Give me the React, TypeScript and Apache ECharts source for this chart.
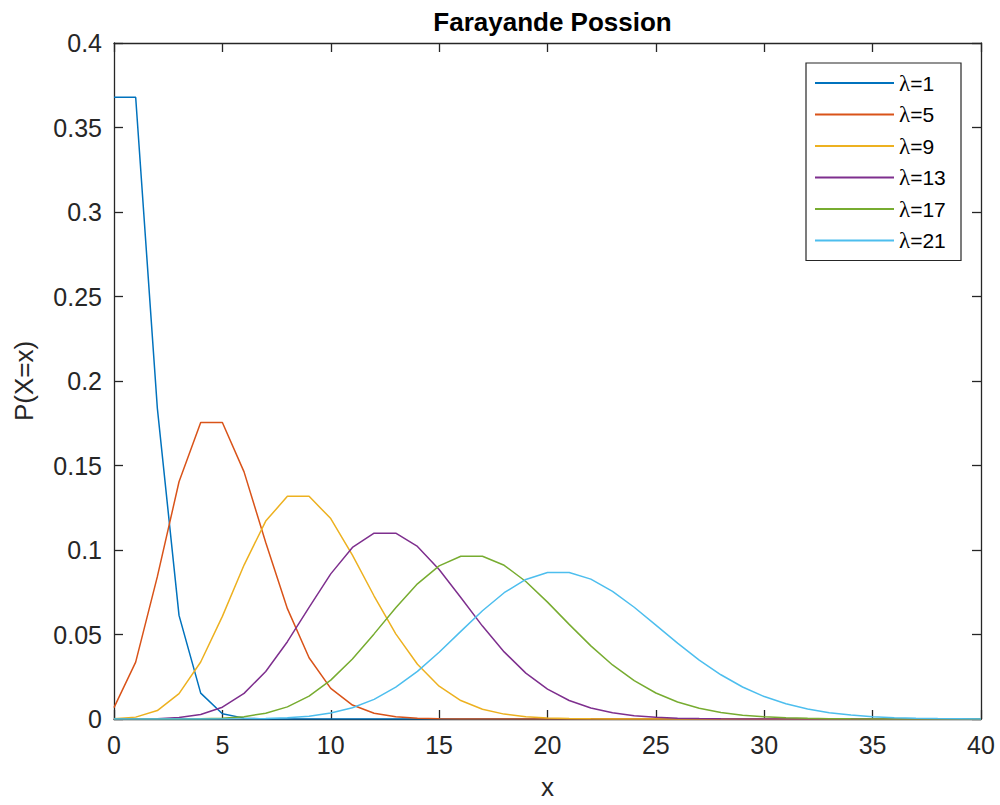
import React, { useEffect, useRef } from "react";
import * as echarts from "echarts";

const xValues = [
  0, 1, 2, 3, 4, 5, 6, 7, 8, 9, 10, 11, 12, 13, 14, 15, 16, 17, 18, 19, 20,
  21, 22, 23, 24, 25, 26, 27, 28, 29, 30, 31, 32, 33, 34, 35, 36, 37, 38, 39, 40,
];

const seriesNames = ["λ=1", "λ=5", "λ=9", "λ=13", "λ=17", "λ=21"];
const seriesColors = ["#0072BD", "#D95319", "#EDB120", "#7E2F8E", "#77AC30", "#4DBEEE"];

const lambda1 = [
  0.3679, 0.3679, 0.1839, 0.0613, 0.0153, 0.00307, 0.00051, 0.000073, 0.0000091, 0.000001,
  0, 0, 0, 0, 0, 0, 0, 0, 0, 0, 0, 0, 0, 0, 0, 0, 0, 0, 0, 0, 0, 0, 0, 0, 0, 0, 0, 0, 0, 0, 0,
];
const lambda5 = [
  0.00674, 0.03369, 0.08422, 0.14037, 0.17547, 0.17547, 0.14622, 0.10444, 0.06528, 0.03627,
  0.01813, 0.00824, 0.00343, 0.00132, 0.00047, 0.000157, 0.000049, 0.0000145, 0.000004, 0.000001,
  0, 0, 0, 0, 0, 0, 0, 0, 0, 0, 0, 0, 0, 0, 0, 0, 0, 0, 0, 0, 0,
];
const lambda9 = [
  0.000123, 0.00111, 0.005, 0.01499, 0.03374, 0.06073, 0.09109, 0.11712, 0.13176, 0.13176,
  0.11858, 0.09702, 0.07277, 0.05038, 0.03238, 0.01943, 0.01093, 0.00579, 0.00289, 0.00137,
  0.000617, 0.000264, 0.000108, 0.0000423, 0.0000159, 0.0000057, 0.000002, 0.0000007,
  0, 0, 0, 0, 0, 0, 0, 0, 0, 0, 0, 0, 0,
];
const lambda13 = [
  0.0000023, 0.0000294, 0.000191, 0.000828, 0.00269, 0.00699, 0.01515, 0.02814, 0.04573, 0.06605,
  0.08587, 0.10148, 0.10994, 0.10994, 0.10209, 0.08848, 0.07189, 0.05497, 0.0397, 0.02716,
  0.01766, 0.01093, 0.00646, 0.00365, 0.00198, 0.00103, 0.000514, 0.000247, 0.000115, 0.0000515,
  0.0000223, 0.0000094, 0.0000038, 0.0000015, 0.0000006, 0, 0, 0, 0, 0, 0,
];
const lambda17 = [
  0, 0.0000007, 0.000006, 0.0000339, 0.000144, 0.00049, 0.00139, 0.00337, 0.00716, 0.01353,
  0.023, 0.03555, 0.05036, 0.06585, 0.07996, 0.09062, 0.09629, 0.09629, 0.09094, 0.08136,
  0.06916, 0.05599, 0.04326, 0.03198, 0.02265, 0.0154, 0.01007, 0.00634, 0.00385, 0.00226,
  0.00128, 0.0007, 0.000373, 0.000192, 0.0000959, 0.0000466, 0.000022, 0.0000101, 0.0000045,
  0.000002, 0.0000008,
];
const lambda21 = [
  0, 0, 0, 0.0000013, 0.0000061, 0.0000258, 0.0000903, 0.000271, 0.000711, 0.00166,
  0.00349, 0.00665, 0.01164, 0.01881, 0.02821, 0.0395, 0.05184, 0.06404, 0.07472, 0.08258,
  0.08671, 0.08671, 0.08277, 0.07557, 0.06612, 0.05554, 0.04486, 0.03489, 0.02617, 0.01895,
  0.01327, 0.00899, 0.0059, 0.00375, 0.00232, 0.00139, 0.000811, 0.00046, 0.000254, 0.000137,
  0.0000719,
];

const allSeries = [lambda1, lambda5, lambda9, lambda13, lambda17, lambda21];

const titleText = "Farayande Possion";
const xName = "x";
const yName = "P(X=x)";

const FONT = "'Liberation Sans', Arial, Helvetica, sans-serif";
const SERIF = "'Liberation Serif', 'DejaVu Serif', serif";
const AXIS_COLOR = "#262626";

export default function App() {
  const ref = useRef<HTMLDivElement>(null);

  useEffect(() => {
    document.body.style.margin = "0";
    if (!ref.current) return;
    const chart = echarts.init(ref.current, undefined, { renderer: "svg" });

    const axisCommon = {
      axisLine: { show: true, onZero: false, lineStyle: { color: AXIS_COLOR, width: 1.3 } },
      axisTick: { show: true, inside: true, length: 9, lineStyle: { color: AXIS_COLOR, width: 1.3 } },
      splitLine: { show: false },
    };

    chart.setOption({
      animation: false,
      backgroundColor: "#ffffff",
      title: {
        text: titleText,
        left: 547.5,
        top: 4,
        textAlign: "center",
        textStyle: { fontFamily: FONT, fontWeight: "bold", fontSize: 26, color: "#000000" },
      },
      grid: { left: 114, width: 867, top: 43, height: 684, containLabel: false },
      legend: {
        orient: "vertical",
        right: 39,
        top: 63,
        padding: [8, 4, 8, 9],
        itemWidth: 79,
        itemHeight: 2,
        itemGap: 7.5,
        itemTextGap: 6,
        icon: "rect",
        borderColor: AXIS_COLOR,
        borderWidth: 1.2,
        backgroundColor: "#ffffff",
        formatter: (name: string) => "{l|" + name.slice(0, 1) + "}{t|" + name.slice(1) + "}",
        textStyle: {
          fontFamily: FONT,
          fontSize: 21,
          lineHeight: 24,
          width: 58,
          color: "#000000",
          rich: {
            l: { fontFamily: SERIF, fontSize: 23, lineHeight: 24, color: "#000000" },
            t: { fontFamily: FONT, fontSize: 21, lineHeight: 24, color: "#000000" },
          },
        },
        data: seriesNames,
      },
      xAxis: [
        {
          type: "value",
          min: 0,
          max: 40,
          interval: 5,
          name: xName,
          nameLocation: "middle",
          nameGap: 55,
          nameTextStyle: { fontFamily: FONT, fontSize: 26, color: AXIS_COLOR },
          axisLabel: { fontFamily: FONT, fontSize: 25, color: AXIS_COLOR, margin: 13 },
          ...axisCommon,
        },
        {
          type: "value",
          position: "top",
          min: 0,
          max: 40,
          interval: 5,
          axisLabel: { show: false },
          ...axisCommon,
        },
      ],
      yAxis: [
        {
          type: "value",
          min: 0,
          max: 0.4,
          interval: 0.05,
          name: yName,
          nameLocation: "middle",
          nameGap: 77,
          nameTextStyle: { fontFamily: FONT, fontSize: 26, color: AXIS_COLOR },
          axisLabel: { fontFamily: FONT, fontSize: 25, color: AXIS_COLOR, margin: 12 },
          ...axisCommon,
        },
        {
          type: "value",
          position: "right",
          min: 0,
          max: 0.4,
          interval: 0.05,
          axisLabel: { show: false },
          ...axisCommon,
        },
      ],
      series: allSeries.map((vals, i) => ({
        name: seriesNames[i],
        type: "line",
        symbol: "none",
        color: seriesColors[i],
        lineStyle: { width: 1.5, color: seriesColors[i] },
        data: xValues.map((x, j) => [x, vals[j]]),
      })),
    });

    return () => chart.dispose();
  }, []);

  return (
    <div
      ref={ref}
      style={{ position: "fixed", left: 0, top: 0, width: 1000, height: 805 }}
    />
  );
}
